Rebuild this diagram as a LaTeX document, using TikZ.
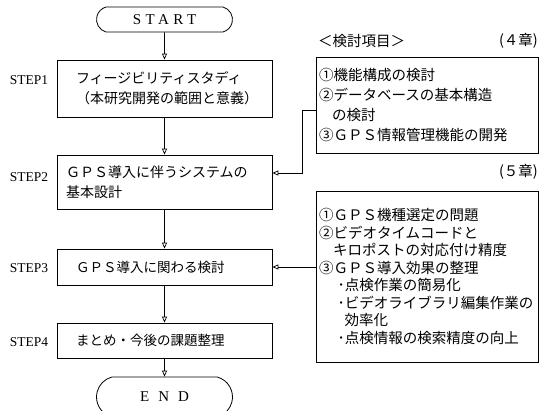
\documentclass[tikz,border=0pt]{standalone}
\usepackage{fontspec}
\setmainfont{Liberation Serif}
\newfontfamily\jp{Noto Sans CJK JP}
\newfontfamily\spacedA[LetterSpace=30]{Liberation Serif}
\newfontfamily\spacedB[LetterSpace=60]{Liberation Serif}
\usetikzlibrary{arrows.meta,shapes.misc}
\begin{document}
\begin{tikzpicture}[x=1pt,y=-1pt,
  stepbox/.style={draw,line width=0.8pt,inner ysep=0pt,align=left},
  bigjp/.style={font=\jp\fontsize{14}{20}\selectfont},
  midjp/.style={font=\jp\fontsize{13.5}{20}\selectfont},
  infobox/.style={draw,line width=0.8pt,inner ysep=0pt,inner xsep=3pt,text width=216pt,align=left},
  term/.style={draw,line width=0.8pt,rounded rectangle,rounded rectangle arc length=150,minimum width=136pt,inner sep=0pt},
  steplabel/.style={font=\fontsize{13.5}{15}\selectfont,inner sep=0pt},
  plainjp/.style={font=\jp\fontsize{14.5}{17}\selectfont,inner sep=0pt},
  arr/.style={line width=0.7pt,-{Triangle[open,length=6pt,width=5pt]}}
]
\useasboundingbox (0,0) rectangle (540,411);
\clip (0,0) rectangle (540,411);

% terminals
\node[term,minimum height=25pt,font=\spacedA\fontsize{15}{15}\selectfont] (start) at (164.5,19.5) {START};
\node[term,minimum height=40pt,font=\spacedB\fontsize{15}{15}\selectfont] (end) at (164.5,397) {END};

% step boxes
\node[stepbox,bigjp,text width=177pt,inner xsep=19pt,minimum height=57pt] (b1) at (164.5,88.5)
  {フィージビリティスタディ\\（本研究開発の範囲と意義）};
\node[stepbox,bigjp,text width=197pt,inner xsep=9pt,minimum height=54pt] (b2) at (164.5,182)
  {ＧＰＳ導入に伴うシステムの\\基本設計};
\node[stepbox,midjp,text width=177pt,inner xsep=19pt,minimum height=36pt] (b3) at (164.5,267)
  {ＧＰＳ導入に関わる検討};
\node[stepbox,midjp,text width=177pt,inner xsep=19pt,minimum height=35pt] (b4) at (164.5,340.5)
  {まとめ・今後の課題整理};

% step labels
\node[steplabel] (s1) at (29,80) {STEP1};
\node[steplabel] (s2) at (29,177) {STEP2};
\node[steplabel] (s3) at (29,268) {STEP3};
\node[steplabel] (s4) at (29,342) {STEP4};

% info boxes
\node[infobox,font=\jp\fontsize{14.5}{20}\selectfont,minimum height=96pt] (A) at (427,105)
  {①機能構成の検討\\②データベースの基本構造\\\hspace*{13pt}の検討\\③ＧＰＳ情報管理機能の開発};
\node[infobox,font=\jp\fontsize{14.5}{17.5}\selectfont,minimum height=171pt] (B) at (427,276.5)
  {①ＧＰＳ機種選定の問題\\②ビデオタイムコードと\\\hspace*{14pt}キロポストの対応付け精度\\③ＧＰＳ導入効果の整理\\\hspace*{18.5pt}･点検作業の簡易化\\\hspace*{18.5pt}･ビデオライブラリ編集作業の\\\hspace*{25.5pt}効率化\\\hspace*{18.5pt}･点検情報の検索精度の向上};

% labels
\node[plainjp,anchor=west] (lab) at (318,41) {＜検討項目＞};
\node[plainjp,anchor=east] (ch4) at (538,41) {(４章)};
\node[plainjp,anchor=east] (ch5) at (538,172) {(５章)};

% connectors
\draw[arr] (start) -- (b1);
\draw[arr] (b1) -- (b2);
\draw[arr] (b2) -- (b3);
\draw[arr] (b3) -- (b4);
\draw[arr] (b4) -- (end);
\coordinate (a2) at ([yshift=9pt]b2.east);
\draw[arr] ([yshift=-5pt]A.west) -- ++(-13,0) |- (a2);
\draw[arr] (B.west |- b3.east) -- (b3.east);
\end{tikzpicture}
\end{document}
